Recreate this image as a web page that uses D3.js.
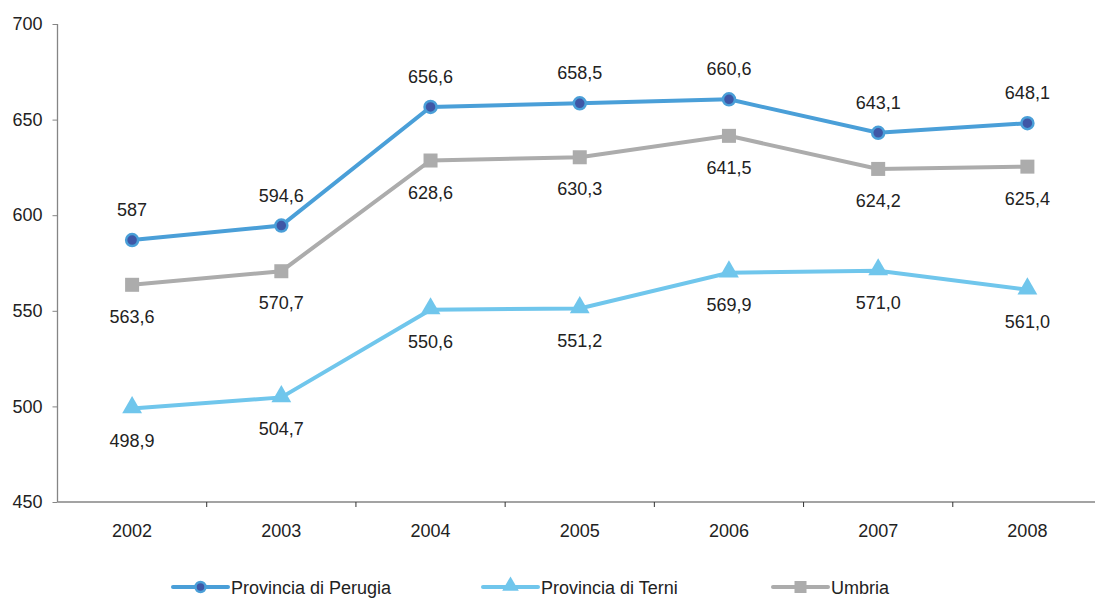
<!DOCTYPE html>
<html><head><meta charset="utf-8">
<script src="https://cdn.jsdelivr.net/npm/d3@7"></script>
<style>body{margin:0;background:#fff}svg{display:block;font-family:"Liberation Sans",Arial,sans-serif}</style>
</head><body><svg id="c" width="1095" height="598"></svg>
<script>
const years = ["2002","2003","2004","2005","2006","2007","2008"];
const perugia = [587, 594.6, 656.6, 658.5, 660.6, 643.1, 648.1];
const terni = [498.9, 504.7, 550.6, 551.2, 569.9, 571.0, 561.0];
const umbria = [563.6, 570.7, 628.6, 630.3, 641.5, 624.2, 625.4];
const perugiaLabels = ["587","594,6","656,6","658,5","660,6","643,1","648,1"];
const terniLabels = ["498,9","504,7","550,6","551,2","569,9","571,0","561,0"];
const umbriaLabels = ["563,6","570,7","628,6","630,3","641,5","624,2","625,4"];
const yTicks = [450,500,550,600,650,700];

const FS = 18;
const svg = d3.select("#c");
const x = d3.scaleBand().domain(years).range([57.5, 1102]);
const y = d3.scaleLinear().domain([450,700]).range([502, 24]);
const axisCol = "#858585";

// y axis
const ya = svg.append("g").attr("transform","translate(57.5,0)")
  .call(d3.axisLeft(y).tickValues(yTicks).tickSize(5).tickPadding(10));
ya.select(".domain").attr("stroke",axisCol).attr("stroke-width",1.3).attr("d","M0,24V502");
ya.selectAll(".tick line").attr("stroke",axisCol);
ya.selectAll(".tick text").attr("font-size",FS).attr("fill","#222").attr("font-family","Liberation Sans, Arial");

// x axis
const xa = svg.append("g").attr("transform","translate(0,502)");
xa.append("line").attr("x1",57.5).attr("x2",1095).attr("y1",0).attr("y2",0).attr("stroke",axisCol).attr("stroke-width",1.3);
const edges = years.slice(1).map(d=>x(d));
xa.selectAll("line.t").data(edges).join("line").attr("class","t")
  .attr("x1",d=>d).attr("x2",d=>d).attr("y1",0).attr("y2",5).attr("stroke","#333");
xa.selectAll("text").data(years).join("text")
  .attr("x",d=>x(d)+x.bandwidth()/2).attr("y",35).attr("text-anchor","middle")
  .attr("font-size",FS).attr("fill","#222").text(d=>d);

const cx = d => x(d)+x.bandwidth()/2;
const line = d3.line().x((d,i)=>cx(years[i])).y(d=>y(d));

const cPer = "#4a9fd8", cTer = "#70c6ec", cUmb = "#acacac";

svg.append("path").datum(umbria).attr("d",line).attr("fill","none").attr("stroke",cUmb).attr("stroke-width",4);
svg.append("path").datum(terni).attr("d",line).attr("fill","none").attr("stroke",cTer).attr("stroke-width",4);
svg.append("path").datum(perugia).attr("d",line).attr("fill","none").attr("stroke",cPer).attr("stroke-width",4);

const tri = d3.symbol().type(d3.symbolTriangle).size(170);
svg.selectAll("rect.u").data(umbria).join("rect").attr("class","u")
  .attr("x",(d,i)=>cx(years[i])-7).attr("y",d=>y(d)-7).attr("width",14).attr("height",14).attr("fill",cUmb);
svg.selectAll("path.t").data(terni).join("path").attr("class","t")
  .attr("d",tri).attr("transform",(d,i)=>`translate(${cx(years[i])},${y(d)-1})`).attr("fill",cTer);
svg.selectAll("circle.p").data(perugia).join("circle").attr("class","p")
  .attr("cx",(d,i)=>cx(years[i])).attr("cy",d=>y(d)).attr("r",6).attr("fill","#3f57a6").attr("stroke",cPer).attr("stroke-width",2.5);

function labels(vals, txt, dy){
  svg.append("g").selectAll("text").data(vals).join("text")
    .attr("x",(d,i)=>cx(years[i])).attr("y",d=>y(d)+dy).attr("text-anchor","middle")
    .attr("font-size",FS).attr("fill","#222").text((d,i)=>txt[i]);
}
labels(perugia, perugiaLabels, -24);
labels(umbria, umbriaLabels, 38);
labels(terni, terniLabels, 38);

// legend
const leg = [
  {name:"Provincia di Perugia", col:cPer, x0:173, type:"c"},
  {name:"Provincia di Terni", col:cTer, x0:483, type:"t"},
  {name:"Umbria", col:cUmb, x0:773, type:"s"}
];
const lg = svg.append("g").attr("transform","translate(0,587)");
leg.forEach(l=>{
  lg.append("line").attr("x1",l.x0).attr("x2",l.x0+55).attr("stroke",l.col).attr("stroke-width",4).attr("stroke-linecap","round");
  const m = l.x0+27.5;
  if(l.type==="c") lg.append("circle").attr("cx",m).attr("cy",0).attr("r",5).attr("fill","#3f57a6").attr("stroke",l.col).attr("stroke-width",2.5);
  if(l.type==="t") lg.append("path").attr("d",d3.symbol().type(d3.symbolTriangle).size(120)).attr("transform",`translate(${m},-1)`).attr("fill",l.col);
  if(l.type==="s") lg.append("rect").attr("x",m-6).attr("y",-6).attr("width",12).attr("height",12).attr("fill",l.col);
  lg.append("text").attr("x",l.x0+58).attr("y",6.5).attr("font-size",FS).attr("fill","#222").text(l.name);
});
</script></body></html>
